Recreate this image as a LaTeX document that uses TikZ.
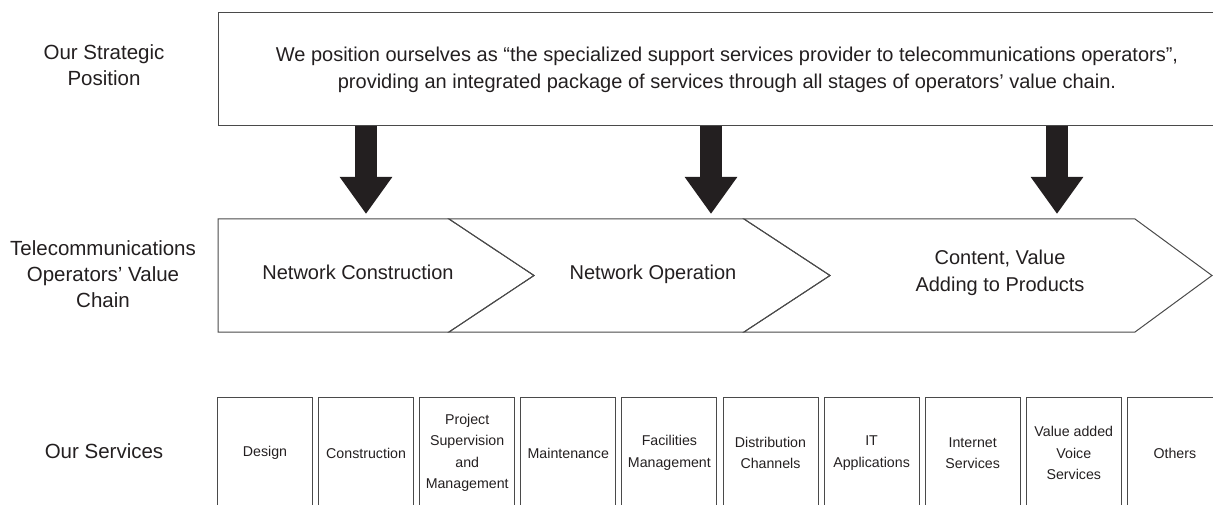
\documentclass[tikz,border=0pt]{standalone}
\usepackage{fontspec}
\setmainfont{Liberation Sans}
\usetikzlibrary{arrows.meta}
\definecolor{ink}{HTML}{231F20}
\definecolor{edge}{HTML}{4A4A4A}
\begin{document}
\begin{tikzpicture}[x=1pt,y=-1pt,
  lbl/.style={font=\fontsize{20.5}{26}\selectfont, align=center, text=ink, inner sep=0pt},
  maintext/.style={font=\fontsize{20}{27}\selectfont, align=center, text=ink},
  frame/.style={draw=edge, line width=1pt, line join=miter},
  svc/.style={draw=edge, line width=1pt, minimum width=95pt, minimum height=112pt, inner sep=0pt,
    font=\fontsize{14.2}{21.5}\selectfont, align=center, text=ink},
  blockarrow/.style={draw=ink, line width=22pt, -{Triangle[width=50pt,length=37pt]}}]
\useasboundingbox (0,0) rectangle (1213,505);
\clip (0,0) rectangle (1213,505);

% left labels
\node[lbl] (l1) at (104,65) {Our Strategic\\Position};
\node[lbl] (l2) at (103,274) {Telecommunications\\Operators’ Value\\Chain};
\node[lbl] (l3) at (104,451) {Our Services};

% strategic position box
\node[frame, maintext, minimum width=1018pt, minimum height=113pt] (pos) at (727,69.5)
  {We position ourselves as “the specialized support services provider to telecommunications operators”,\\
   providing an integrated package of services through all stages of operators’ value chain.};

% value chain chevrons
\draw[frame] (218,219) -- (449,219) -- (534,275.5) -- (449,332) -- (218,332) -- cycle;
\draw[frame] (449,219) -- (744,219) -- (830,275.5) -- (744,332) -- (449,332) -- (534,275.5) -- cycle;
\draw[frame] (744,219) -- (1135,219) -- (1212,275.5) -- (1135,332) -- (744,332) -- (830,275.5) -- cycle;
\node[maintext] (ch1) at (358,272) {Network Construction};
\node[maintext] (ch2) at (653,274) {Network Operation};
\node[maintext] (ch3) at (1000,272.5) {Content, Value\\Adding to Products};

% arrow targets
\coordinate (t1) at (366,214);
\coordinate (t2) at (711,214);
\coordinate (t3) at (1057,214);
\draw[blockarrow] (pos.south -| t1) -- (t1);
\draw[blockarrow] (pos.south -| t2) -- (t2);
\draw[blockarrow] (pos.south -| t3) -- (t3);

% services
\node[svc] (s0) at (265,453) {Design};
\node[svc] (s1) at (366.1,453) {Construction};
\node[svc] (s2) at (467.2,453) {Project\\Supervision\\and\\Management};
\node[svc] (s3) at (568.3,453) {Maintenance};
\node[svc] (s4) at (669.4,453) {Facilities\\Management};
\node[svc] (s5) at (770.5,453) {Distribution\\Channels};
\node[svc] (s6) at (871.6,453) {IT\\Applications};
\node[svc] (s7) at (972.7,453) {Internet\\Services};
\node[svc] (s8) at (1073.8,453) {Value added\\Voice\\Services};
\node[svc] (s9) at (1174.9,453) {Others};
\end{tikzpicture}
\end{document}
